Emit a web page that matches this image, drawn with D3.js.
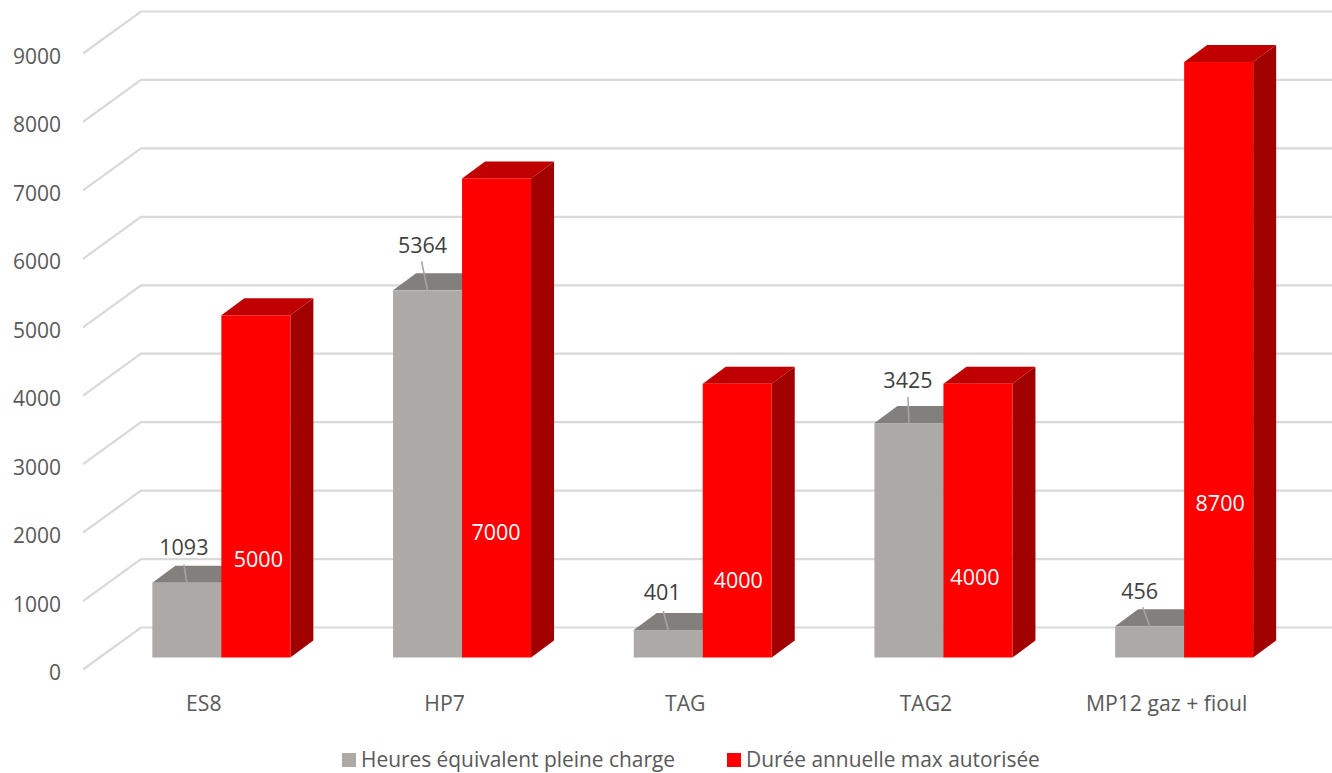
<!DOCTYPE html>
<html lang="fr">
<head>
<meta charset="utf-8">
<title>Heures de fonctionnement</title>
<script src="https://cdn.jsdelivr.net/npm/d3@7/dist/d3.min.js"></script>
<style>
  html, body { margin: 0; padding: 0; background: #fff; }
  svg { display: block; font-family: "Open Sans", "Noto Sans", sans-serif; }
</style>
</head>
<body>
<svg id="chart" width="1332" height="773"></svg>
<script>
const categories = ["ES8", "HP7", "TAG", "TAG2", "MP12 gaz + fioul"];
const heuresPleineCharge = [1093, 5364, 401, 3425, 456];
const dureeMaxAutorisee = [5000, 7000, 4000, 4000, 8700];
const yTicks = [0, 1000, 2000, 3000, 4000, 5000, 6000, 7000, 8000, 9000];
const seriesNames = ["Heures équivalent pleine charge", "Durée annuelle max autorisée"];

// Hand-placed data labels: offset from the top centre of the grey bar,
// and from the front centre of the red bar's top edge.
const greyLabelOffsets = [[-3, -36], [-5, -46], [-6, -39], [-1, -44], [-10, -36]];
const redLabelOffsets = [[2.5, 243.5], [-0.5, 353.5], [1, 196], [-3, 193], [1.5, 440]];
const greyLeaderTops = [[-3, -18], [-6, -29], [-5, -19], [-1, -26], [-7, -19]];

const width = 1332, height = 773;
const depth = { x: 23, y: 17 };
const wall = { x: 58, y: 42 };
const grey = { front: "#ada9a7", top: "#827f7d", side: "#6f6c6a" };
const red = { front: "#ff0000", top: "#c00000", side: "#a00000" };

const svg = d3.select("#chart");

const x = d3.scaleBand().domain(categories).range([83.5, 1287]).paddingInner(0).paddingOuter(0);
const barW = 69;
const y = d3.scaleLinear().domain([0, 9000]).range([657.5, 41.5]);

// Back wall grid with its diagonal return along the floor side
const gridY = v => y(v) - depth.y - 13;
const grid = svg.append("g").attr("fill", "none").attr("stroke", "#d9d9d9").attr("stroke-width", 2.2);
grid.selectAll("path").data(yTicks).join("path")
  .attr("d", v => d3.line()([
    [83, gridY(v) + wall.y],
    [83 + wall.x, gridY(v)],
    [width, gridY(v)]
  ]));

// Value axis labels
svg.append("g").selectAll("text").data(yTicks).join("text")
  .attr("x", 61).attr("y", v => gridY(v) + wall.y + 2.5)
  .attr("text-anchor", "end").attr("dominant-baseline", "central")
  .attr("font-size", 21).attr("fill", "#595959")
  .text(d => d);

// Category labels
svg.append("g").selectAll("text").data(categories).join("text")
  .attr("x", d => x(d) + x.bandwidth() / 2).attr("y", 702)
  .attr("text-anchor", "middle").attr("dominant-baseline", "central")
  .attr("font-size", 21.2).attr("fill", "#595959")
  .text(d => d);

// One extruded bar: side, top, then front face
function bar3d(g, x0, value, colours) {
  const top = y(value), base = y(0), x1 = x0 + barW;
  const poly = pts => d3.line()(pts) + "Z";
  g.append("path").attr("fill", colours.side).attr("d", poly([
    [x1, top], [x1 + depth.x, top - depth.y], [x1 + depth.x, base - depth.y], [x1, base]
  ]));
  g.append("path").attr("fill", colours.top).attr("d", poly([
    [x0, top], [x0 + depth.x, top - depth.y], [x1 + depth.x, top - depth.y], [x1, top]
  ]));
  g.append("rect").attr("fill", colours.front)
    .attr("x", x0).attr("y", top).attr("width", barW).attr("height", base - top);
}

const greyX = c => x(c) + x.bandwidth() / 2 + 17.5 - barW;
const redX = c => x(c) + x.bandwidth() / 2 + 17.5;

categories.forEach((c, i) => {
  const g = svg.append("g");
  bar3d(g, greyX(c), heuresPleineCharge[i], grey);
  bar3d(g, redX(c), dureeMaxAutorisee[i], red);
});

// Leader lines from the grey labels down to their bars
svg.append("g").attr("stroke", "#a6a6a6").attr("stroke-width", 1.6)
  .selectAll("line").data(categories).join("line")
  .attr("x1", (c, i) => greyX(c) + barW / 2 + greyLeaderTops[i][0])
  .attr("y1", (c, i) => y(heuresPleineCharge[i]) + greyLeaderTops[i][1])
  .attr("x2", c => greyX(c) + barW / 2)
  .attr("y2", (c, i) => y(heuresPleineCharge[i]));

// Data labels
svg.append("g").selectAll("text").data(categories).join("text")
  .attr("x", (c, i) => greyX(c) + barW / 2 + greyLabelOffsets[i][0])
  .attr("y", (c, i) => y(heuresPleineCharge[i]) + greyLabelOffsets[i][1])
  .attr("text-anchor", "middle").attr("dominant-baseline", "central")
  .attr("font-size", 21.5).attr("fill", "#404040")
  .text((c, i) => heuresPleineCharge[i]);

svg.append("g").selectAll("text").data(categories).join("text")
  .attr("x", (c, i) => redX(c) + barW / 2 + redLabelOffsets[i][0])
  .attr("y", (c, i) => y(dureeMaxAutorisee[i]) + redLabelOffsets[i][1])
  .attr("text-anchor", "middle").attr("dominant-baseline", "central")
  .attr("font-size", 21.5).attr("fill", "#ffffff")
  .text((c, i) => dureeMaxAutorisee[i]);

// Legend
const legendX = [342, 727];
const legendColours = [grey.front, red.front];
const legend = svg.append("g").selectAll("g").data(seriesNames).join("g")
  .attr("transform", (d, i) => `translate(${legendX[i]},753)`);
legend.append("rect").attr("width", 14).attr("height", 14).attr("fill", (d, i) => legendColours[i]);
legend.append("text").attr("x", 19).attr("y", 6)
  .attr("dominant-baseline", "central")
  .attr("font-size", 20.9).attr("fill", "#595959")
  .text(d => d);
</script>
</body>
</html>
